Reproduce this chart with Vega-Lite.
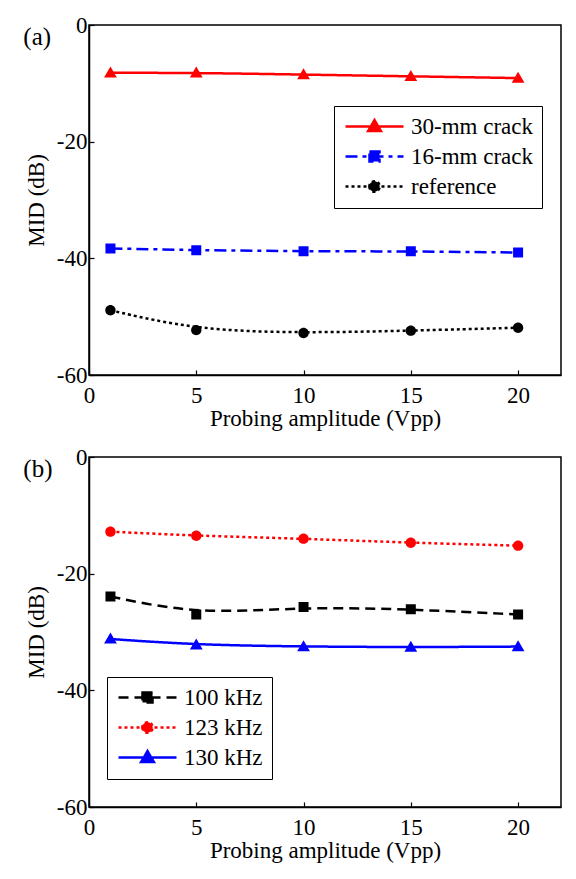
{
  "$schema": "https://vega.github.io/schema/vega-lite/v6.json",
  "background": "white",
  "padding": {"left": 22, "top": 13, "right": 5, "bottom": 5},
  "spacing": 14,
  "config": {
    "font": "Liberation Serif",
    "view": {"stroke": "black", "strokeWidth": 1.5},
    "axis": {
      "labelFont": "Liberation Serif", "labelFontSize": 23, "labelColor": "black",
      "titleFont": "Liberation Serif", "titleFontSize": 23, "titleFontWeight": "normal", "titleColor": "black",
      "domainColor": "black", "domainWidth": 1.5, "tickColor": "black", "tickSize": -5, "tickWidth": 1.2,
      "grid": false, "labelFlush": false, "labelOverlap": false, "labelPadding": 14
    },
    "legend": {"labelFont": "Liberation Serif"},
    "title": {"font": "Liberation Serif", "fontSize": 25, "fontWeight": "normal", "color": "black", "anchor": "start", "frame": "bounds"}
  },
  "resolve": {"scale": {"color": "independent", "fill": "independent", "stroke": "independent", "shape": "independent", "strokeDash": "independent"}, "legend": {"fill": "independent", "stroke": "independent", "shape": "independent", "strokeDash": "independent"}},
  "vconcat": [
    {
      "width": 472, "height": 350,
      "title": {"text": "(a)", "dy": 40, "dx": -2},
      "data": {"values": [
        {"series": "30-mm crack", "amp": 1, "mid": -8.2},
        {"series": "30-mm crack", "amp": 5, "mid": -8.2},
        {"series": "30-mm crack", "amp": 10, "mid": -8.5},
        {"series": "30-mm crack", "amp": 15, "mid": -8.8},
        {"series": "30-mm crack", "amp": 20, "mid": -9.1},
        {"series": "16-mm crack", "amp": 1, "mid": -38.3},
        {"series": "16-mm crack", "amp": 5, "mid": -38.6},
        {"series": "16-mm crack", "amp": 10, "mid": -38.8},
        {"series": "16-mm crack", "amp": 15, "mid": -38.8},
        {"series": "16-mm crack", "amp": 20, "mid": -39.0},
        {"series": "reference", "amp": 1, "mid": -48.9},
        {"series": "reference", "amp": 5, "mid": -52.3},
        {"series": "reference", "amp": 10, "mid": -52.8},
        {"series": "reference", "amp": 15, "mid": -52.4},
        {"series": "reference", "amp": 20, "mid": -51.9}
      ]},
      "encoding": {
        "x": {"field": "amp", "type": "quantitative", "title": "Probing amplitude (Vpp)", "scale": {"domain": [0, 22], "nice": false}, "axis": {"values": [0, 5, 10, 15, 20], "titlePadding": 0}},
        "y": {"field": "mid", "type": "quantitative", "title": "MID (dB)", "scale": {"domain": [-60, 0], "nice": false}, "axis": {"values": [0, -20, -40, -60], "labelPadding": 7, "titlePadding": 8, "labelExpr": "datum.value < 0 ? '-' + abs(datum.value) : '' + datum.value"}}
      },
      "layer": [
        {
          "mark": {"type": "line", "interpolate": "basis", "strokeWidth": 2.5},
          "encoding": {
            "stroke": {"field": "series", "type": "nominal", "scale": {"domain": ["30-mm crack", "16-mm crack", "reference"], "range": ["#ff0000", "#0000ff", "#000000"]},
              "legend": {"title": null, "orient": "none", "legendX": 245, "legendY": 81, "strokeColor": "black", "fillColor": "white", "padding": 9, "labelFontSize": 23, "labelColor": "black", "labelOffset": 25, "labelLimit": 300, "symbolSize": 400, "symbolOffset": 20, "symbolStrokeWidth": 2.5, "rowPadding": 6}},
            "strokeDash": {"field": "series", "type": "nominal", "scale": {"domain": ["30-mm crack", "16-mm crack", "reference"], "range": [[1, 0], [12, 5, 4, 5], [3, 3]]},
              "legend": {"title": null, "orient": "none", "legendX": 245, "legendY": 81, "strokeColor": "black", "fillColor": "white", "padding": 9, "labelFontSize": 23, "labelColor": "black", "labelOffset": 25, "labelLimit": 300, "symbolSize": 400, "symbolOffset": 20, "symbolStrokeWidth": 2.5, "rowPadding": 6}}
          }
        },
        {
          "mark": {"type": "point", "filled": true, "size": 400, "opacity": 1},
          "encoding": {
            "fill": {"field": "series", "type": "nominal", "scale": {"domain": ["30-mm crack", "16-mm crack", "reference"], "range": ["#ff0000", "#0000ff", "#000000"]},
              "legend": {"title": null, "orient": "none", "legendX": 245, "legendY": 81, "strokeColor": "black", "fillColor": "white", "padding": 9, "labelFontSize": 23, "labelColor": "black", "labelOffset": 25, "labelLimit": 300, "symbolSize": 400, "symbolOffset": 20, "symbolStrokeWidth": 2.5, "rowPadding": 6}},
            "shape": {"field": "series", "type": "nominal", "scale": {"domain": ["30-mm crack", "16-mm crack", "reference"], "range": ["M-2.9,0H2.9M0,-0.64L0.64,0.46L-0.64,0.46Z", "M-2.9,0H2.9M-0.5,-0.5H0.5V0.5H-0.5Z", "M-2.9,0H2.9M-0.52,0A0.52,0.52 0 1,0 0.52,0A0.52,0.52 0 1,0 -0.52,0Z"]},
              "legend": {"title": null, "orient": "none", "legendX": 245, "legendY": 81, "strokeColor": "black", "fillColor": "white", "padding": 9, "labelFontSize": 23, "labelColor": "black", "labelOffset": 25, "labelLimit": 300, "symbolSize": 400, "symbolOffset": 20, "symbolStrokeWidth": 2.5, "rowPadding": 6}}
          }
        }
      ]
    },
    {
      "width": 472, "height": 350,
      "title": {"text": "(b)", "dy": 40, "dx": -2},
      "data": {"values": [
        {"series": "100 kHz", "amp": 1, "mid": -23.9},
        {"series": "100 kHz", "amp": 5, "mid": -27.0},
        {"series": "100 kHz", "amp": 10, "mid": -25.7},
        {"series": "100 kHz", "amp": 15, "mid": -26.1},
        {"series": "100 kHz", "amp": 20, "mid": -27.0},
        {"series": "123 kHz", "amp": 1, "mid": -12.8},
        {"series": "123 kHz", "amp": 5, "mid": -13.5},
        {"series": "123 kHz", "amp": 10, "mid": -14.0},
        {"series": "123 kHz", "amp": 15, "mid": -14.7},
        {"series": "123 kHz", "amp": 20, "mid": -15.2},
        {"series": "130 kHz", "amp": 1, "mid": -31.2},
        {"series": "130 kHz", "amp": 5, "mid": -32.2},
        {"series": "130 kHz", "amp": 10, "mid": -32.5},
        {"series": "130 kHz", "amp": 15, "mid": -32.6},
        {"series": "130 kHz", "amp": 20, "mid": -32.5}
      ]},
      "encoding": {
        "x": {"field": "amp", "type": "quantitative", "title": "Probing amplitude (Vpp)", "scale": {"domain": [0, 22], "nice": false}, "axis": {"values": [0, 5, 10, 15, 20], "titlePadding": 0}},
        "y": {"field": "mid", "type": "quantitative", "title": "MID (dB)", "scale": {"domain": [-60, 0], "nice": false}, "axis": {"values": [0, -20, -40, -60], "labelPadding": 7, "titlePadding": 8, "labelExpr": "datum.value < 0 ? '-' + abs(datum.value) : '' + datum.value"}}
      },
      "layer": [
        {
          "mark": {"type": "line", "interpolate": "basis", "strokeWidth": 2.5},
          "encoding": {
            "stroke": {"field": "series", "type": "nominal", "scale": {"domain": ["100 kHz", "123 kHz", "130 kHz"], "range": ["#000000", "#ff0000", "#0000ff"]},
              "legend": {"title": null, "orient": "none", "legendX": 18, "legendY": 220, "strokeColor": "black", "fillColor": "white", "padding": 9, "labelFontSize": 23, "labelColor": "black", "labelOffset": 25, "labelLimit": 300, "symbolSize": 400, "symbolOffset": 20, "symbolStrokeWidth": 2.5, "rowPadding": 6}},
            "strokeDash": {"field": "series", "type": "nominal", "scale": {"domain": ["100 kHz", "123 kHz", "130 kHz"], "range": [[10, 6], [3, 3], [1, 0]]},
              "legend": {"title": null, "orient": "none", "legendX": 18, "legendY": 220, "strokeColor": "black", "fillColor": "white", "padding": 9, "labelFontSize": 23, "labelColor": "black", "labelOffset": 25, "labelLimit": 300, "symbolSize": 400, "symbolOffset": 20, "symbolStrokeWidth": 2.5, "rowPadding": 6}}
          }
        },
        {
          "mark": {"type": "point", "filled": true, "size": 400, "opacity": 1},
          "encoding": {
            "fill": {"field": "series", "type": "nominal", "scale": {"domain": ["100 kHz", "123 kHz", "130 kHz"], "range": ["#000000", "#ff0000", "#0000ff"]},
              "legend": {"title": null, "orient": "none", "legendX": 18, "legendY": 220, "strokeColor": "black", "fillColor": "white", "padding": 9, "labelFontSize": 23, "labelColor": "black", "labelOffset": 25, "labelLimit": 300, "symbolSize": 400, "symbolOffset": 20, "symbolStrokeWidth": 2.5, "rowPadding": 6}},
            "shape": {"field": "series", "type": "nominal", "scale": {"domain": ["100 kHz", "123 kHz", "130 kHz"], "range": ["M-2.9,0H2.9M-0.5,-0.5H0.5V0.5H-0.5Z", "M-2.9,0H2.9M-0.52,0A0.52,0.52 0 1,0 0.52,0A0.52,0.52 0 1,0 -0.52,0Z", "M-2.9,0H2.9M0,-0.64L0.64,0.46L-0.64,0.46Z"]},
              "legend": {"title": null, "orient": "none", "legendX": 18, "legendY": 220, "strokeColor": "black", "fillColor": "white", "padding": 9, "labelFontSize": 23, "labelColor": "black", "labelOffset": 25, "labelLimit": 300, "symbolSize": 400, "symbolOffset": 20, "symbolStrokeWidth": 2.5, "rowPadding": 6}}
          }
        }
      ]
    }
  ]
}
